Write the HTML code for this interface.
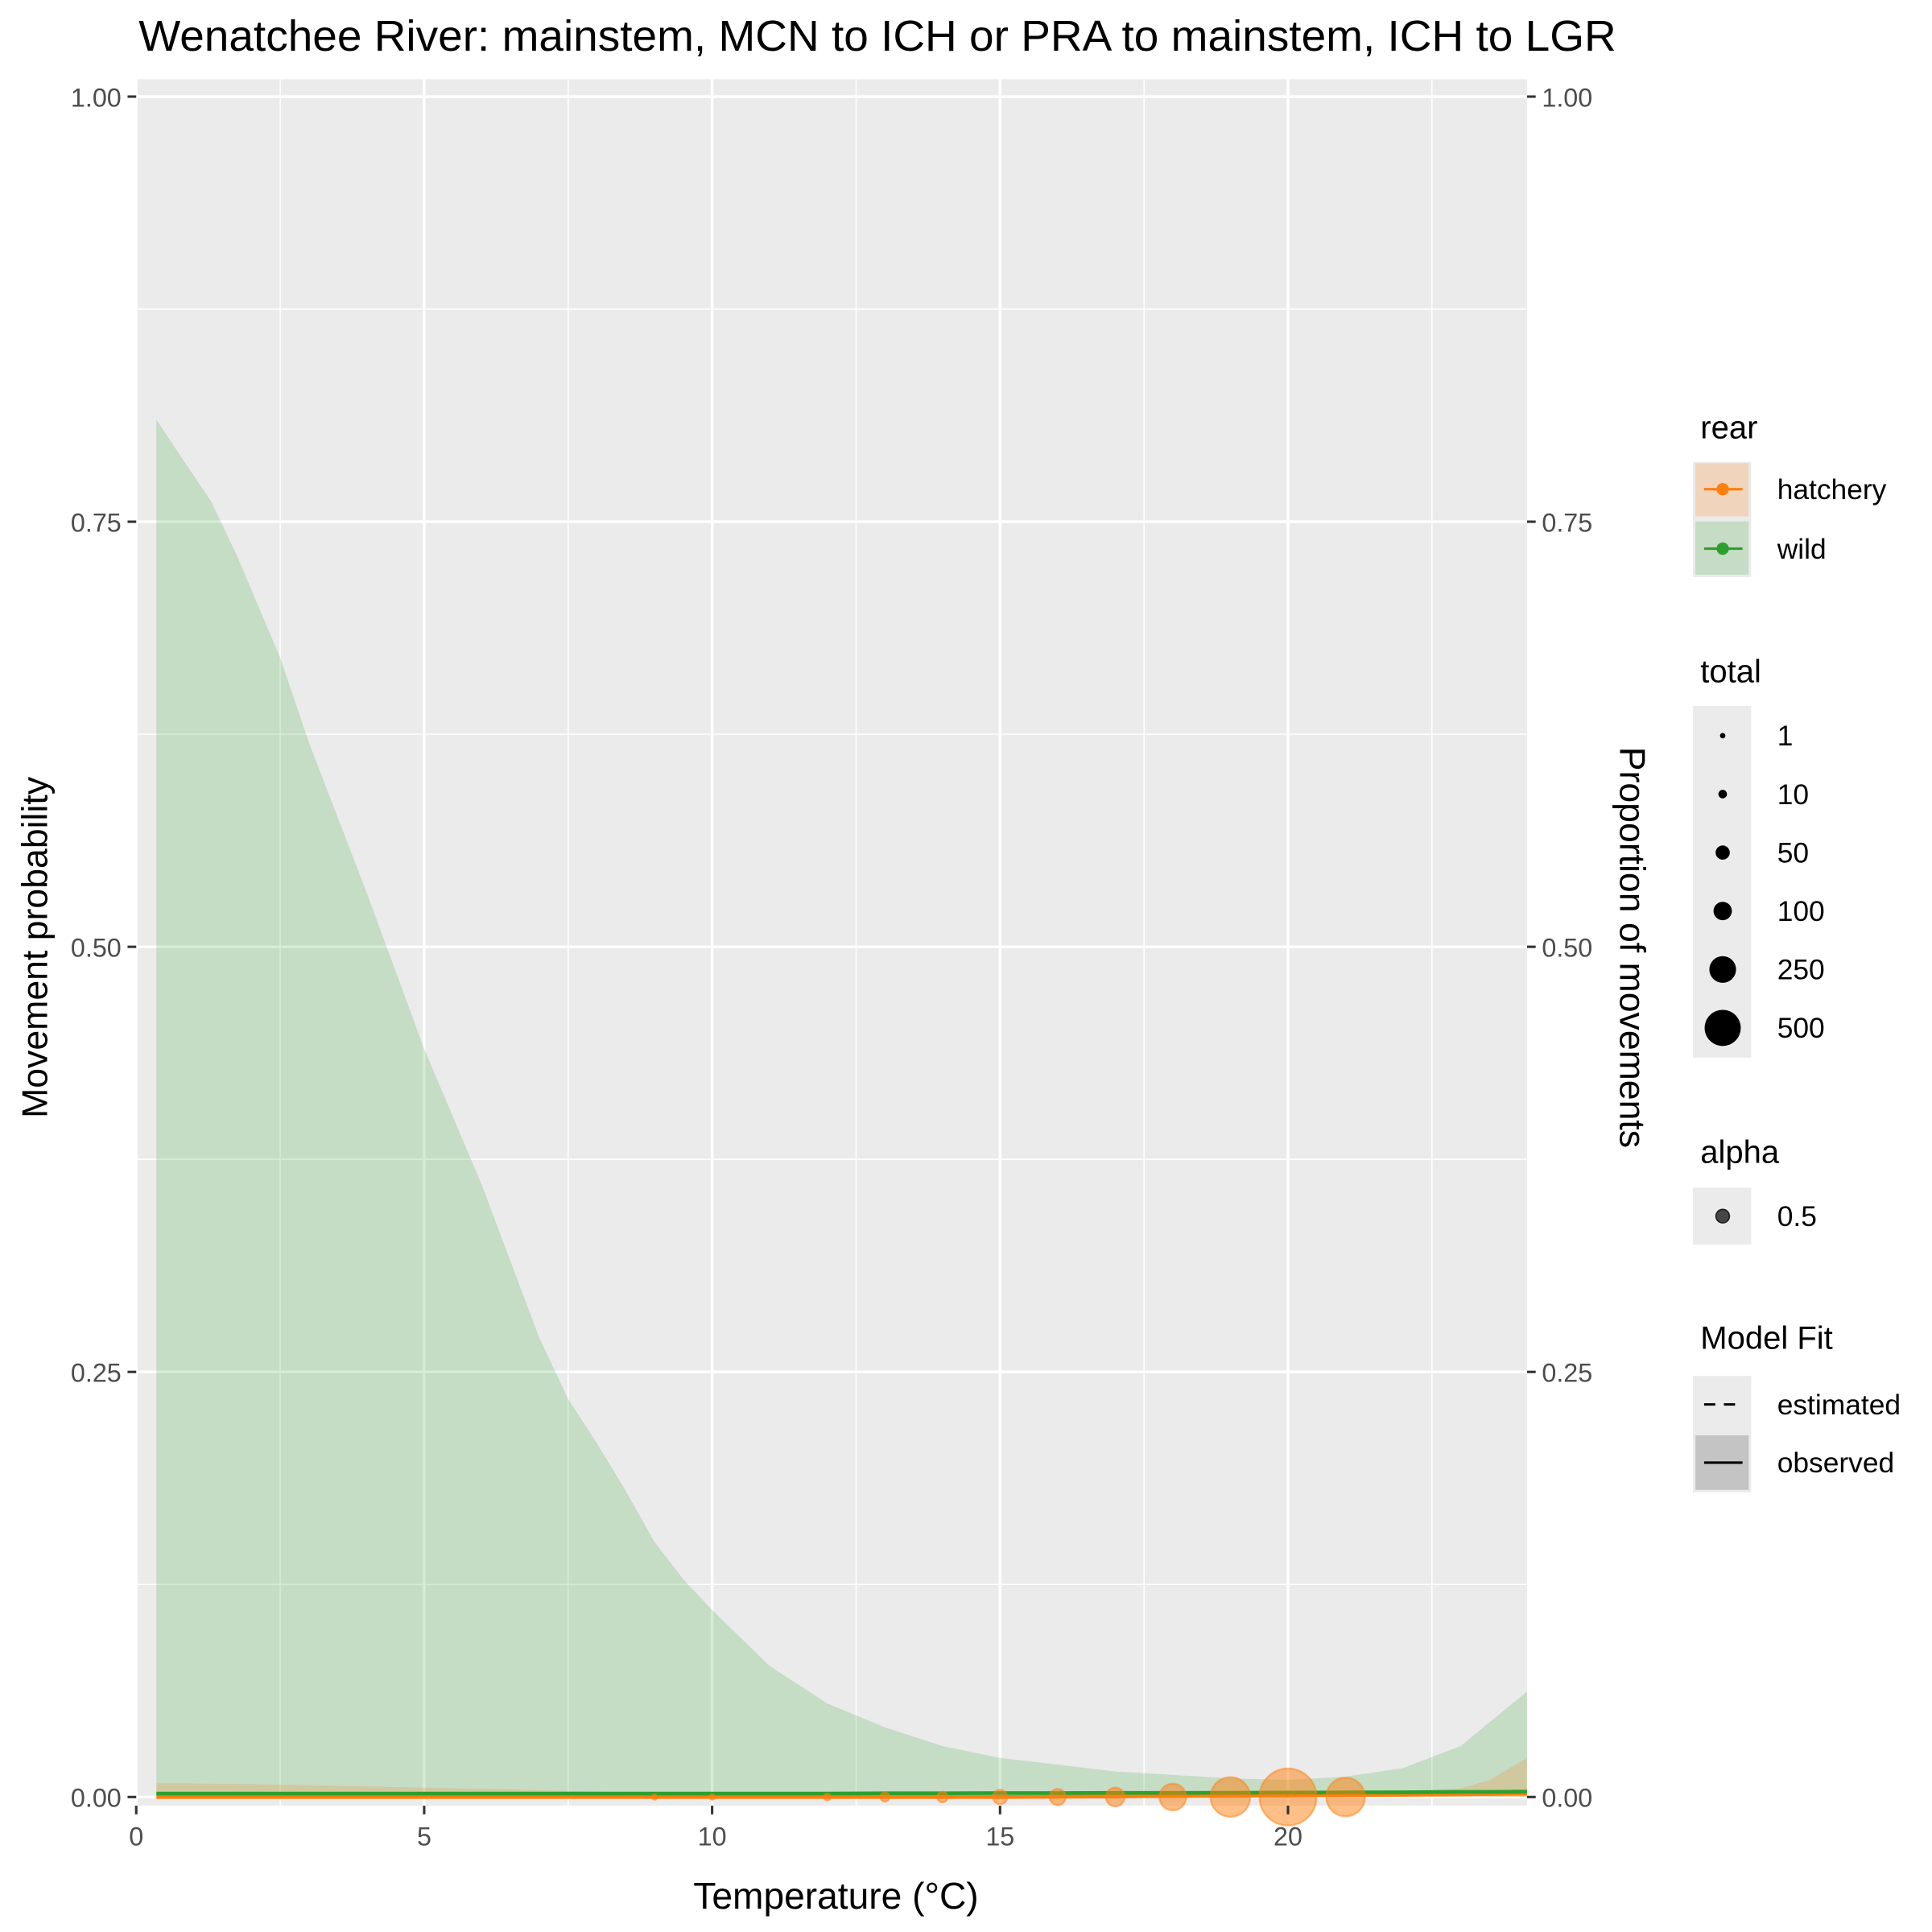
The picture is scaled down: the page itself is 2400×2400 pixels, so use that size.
<!DOCTYPE html>
<html><head><meta charset="utf-8"><style>
html,body{margin:0;padding:0;background:#fff}
svg{display:block;font-family:"Liberation Sans",Arial,sans-serif}
</style></head><body>
<svg id="chart" width="2400" height="2400" viewBox="0 0 1560 1560" xmlns="http://www.w3.org/2000/svg">
<text x="112" y="41" font-size="35" text-anchor="start" textLength="1193" lengthAdjust="spacingAndGlyphs">Wenatchee River: mainstem, MCN to ICH or PRA to mainstem, ICH to LGR</text>
<rect x="110" y="64" width="1123" height="1394" fill="#ebebeb"/>
<g id="grid"></g>
<g id="ribbons"></g>
<g id="lines"></g>
<g id="points"></g>
<g id="axes"></g>
<text x="675" y="1541" font-size="30" text-anchor="middle">Temperature (°C)</text>
<text transform="translate(38,765) rotate(-90)" font-size="29" text-anchor="middle">Movement probability</text>
<text transform="translate(1308,765) rotate(90)" font-size="29" text-anchor="middle">Proportion of movements</text>

<g font-size="23">
<text x="1373" y="354" font-size="26">rear</text>
<rect x="1367" y="373" width="47" height="93" fill="#ebebeb"/>
<g>
<rect x="1369" y="374" width="43" height="43" fill="#f0d5bc"/>
<line x1="1376" y1="395" x2="1407" y2="395" stroke="#ff7f0e" stroke-width="2"/>
<circle cx="1391" cy="395" r="5" fill="#ff7f0e"/>
<text x="1435" y="403">hatchery</text></g>
<g>
<rect x="1369" y="421" width="43" height="43" fill="#c7dcc5"/>
<line x1="1376" y1="443" x2="1407" y2="443" stroke="#2ca02c" stroke-width="2"/>
<circle cx="1391" cy="443" r="5" fill="#2ca02c"/>
<text x="1435" y="451">wild</text></g>
<text x="1373" y="551" font-size="26">total</text>
<rect x="1367" y="570" width="47" height="284" fill="#ebebeb"/>
<g id="sizeLegend"></g>
<text x="1373" y="939" font-size="26">alpha</text>
<rect x="1367" y="959" width="47" height="46" fill="#ebebeb"/>
<circle cx="1391" cy="982" r="5.5" fill="#000" fill-opacity="0.7" stroke="#000" stroke-opacity="0.8"/>
<text x="1435" y="990">0.5</text>
<text x="1373" y="1089" font-size="26">Model Fit</text>
<rect x="1367" y="1111" width="47" height="94" fill="#ebebeb"/>
<g>
<line x1="1376" y1="1134" x2="1407" y2="1134" stroke="#000" stroke-width="2" stroke-dasharray="9,7"/>
<text x="1435" y="1142">estimated</text></g>
<g>
<rect x="1369" y="1159" width="43" height="44" fill="#c4c4c4"/>
<line x1="1376" y1="1181" x2="1407" y2="1181" stroke="#000" stroke-width="2"/>
<text x="1435" y="1189">observed</text></g>
</g>
</svg>
<script>
const xTicks=[0,5,10,15,20];
const yTicks=[0,0.25,0.5,0.75,1];
const yTickLabels=["0.00","0.25","0.50","0.75","1.00"];
const ribbonTemps=[0.35,0.86,1.3,1.75,2.5,3,3.5,4,5,6,7,7.5,8,8.5,9,9.5,10,11,12,13,14,15,16,17,18,19,20,21,22,23,23.5,24.15];
const wildUpper=[0.81,0.784,0.762,0.73,0.67,0.62,0.576,0.532,0.44,0.36,0.27,0.234,0.208,0.18,0.15,0.128,0.11,0.077,0.055,0.041,0.03,0.023,0.019,0.015,0.013,0.011,0.01,0.012,0.017,0.03,0.044,0.062];
const hatchUpper=[0.008,0.008,0.0078,0.0076,0.0073,0.007,0.0066,0.0062,0.0055,0.0048,0.004,0.0036,0.0032,0.0028,0.0024,0.002,0.0017,0.0013,0.001,0.001,0.001,0.001,0.0011,0.0013,0.0016,0.002,0.0025,0.003,0.0035,0.005,0.01,0.023];
const wildFit=[0.002,0.002,0.002,0.002,0.002,0.002,0.002,0.002,0.002,0.002,0.002,0.002,0.002,0.002,0.002,0.002,0.002,0.002,0.002,0.0022,0.0022,0.0023,0.0023,0.0024,0.0024,0.0025,0.0026,0.0027,0.0028,0.003,0.003,0.0032];
const hatchFit=[0,0,0,0,0,0,0,0,0,0,0,0,0,0,0,0,0,0,0,0,0,0,0.0002,0.0003,0.0005,0.0007,0.0009,0.0011,0.0013,0.0016,0.0018,0.002];
const pointTemps=[9,10,12,13,14,15,16,17,18,19,20,21];
const pointTotals=[1,1,4,13,21,52,71,106,250,614,1360,580];
const pointProps=[0,0,0,0,0,0,0,0,0,0,0,0];
const sizeLegendValues=[1,10,50,100,250,500];

const NS="http://www.w3.org/2000/svg";
const X0=110,XU=46.5,Y0=1451,YU=1373;
function sx(t){return X0+t*XU;}
function sy(v){return Y0-v*YU;}
function rad(n){return 1.62+0.58*Math.sqrt(n);}
function mk(tag,attrs,parent){const e=document.createElementNS(NS,tag);for(const k in attrs)e.setAttribute(k,attrs[k]);parent.appendChild(e);return e;}

const grid=document.getElementById('grid');
[0.125,0.375,0.625,0.875].forEach(v=>{const l=mk('line',{x1:110,x2:1233,y1:sy(v),y2:sy(v),stroke:'#fff','stroke-width':1},grid);

});
[2.5,7.5,12.5,17.5,22.5].forEach(t=>{const l=mk('line',{x1:sx(t),x2:sx(t),y1:64,y2:1458,stroke:'#fff','stroke-width':1},grid);

});
yTicks.forEach(v=>{const l=mk('line',{x1:110,x2:1233,y1:sy(v),y2:sy(v),stroke:'#fff','stroke-width':2.2},grid);

});
xTicks.forEach(t=>{const l=mk('line',{x1:sx(t),x2:sx(t),y1:64,y2:1458,stroke:'#fff','stroke-width':2.2},grid);

});

const rib=document.getElementById('ribbons');
function ribbon(upper,fill,op,name){let d='M'+sx(ribbonTemps[0])+','+sy(0);
ribbonTemps.forEach((t,i)=>{d+=' L'+sx(t)+','+sy(upper[i]);});
d+=' L'+sx(ribbonTemps[ribbonTemps.length-1])+','+sy(0)+' Z';
const p=mk('path',{d:d,fill:fill,'fill-opacity':op},rib);

}
ribbon(wildUpper,'#2ca02c',0.2,'wild-ribbon');
ribbon(hatchUpper,'#ff7f0e',0.2,'hatchery-ribbon');

const ln=document.getElementById('lines');
function line(vals,col,name){const pts=ribbonTemps.map((t,i)=>sx(t)+','+sy(vals[i])).join(' ');
const p=mk('polyline',{points:pts,fill:'none',stroke:col,'stroke-width':3},ln);

}
line(hatchFit,'#ff7f0e','hatchery-fit-line');
line(wildFit,'#2ca02c','wild-fit-line');

const pg=document.getElementById('points');
pointTemps.forEach((t,i)=>{const c=mk('circle',{cx:sx(t),cy:sy(pointProps[i]),r:rad(pointTotals[i]),fill:'#ff7f0e','fill-opacity':0.5,stroke:'#ff7f0e','stroke-opacity':0.5,'stroke-width':1.5},pg);

});

const ax=document.getElementById('axes');
xTicks.forEach(t=>{const l=mk('line',{x1:sx(t),x2:sx(t),y1:1458,y2:1465,stroke:'#333','stroke-width':2},ax);


const tx=mk('text',{x:sx(t),y:1490,'font-size':21,fill:'#4d4d4d','text-anchor':'middle'},ax);tx.textContent=t;

});
yTicks.forEach((v,i)=>{const l=mk('line',{x1:103,x2:110,y1:sy(v),y2:sy(v),stroke:'#333','stroke-width':2},ax);


const tx=mk('text',{x:98,y:sy(v)+8,'font-size':21,fill:'#4d4d4d','text-anchor':'end'},ax);tx.textContent=yTickLabels[i];


const l2=mk('line',{x1:1233,x2:1240,y1:sy(v),y2:sy(v),stroke:'#333','stroke-width':2},ax);


const t2=mk('text',{x:1245,y:sy(v)+8,'font-size':21,fill:'#4d4d4d','text-anchor':'start'},ax);t2.textContent=yTickLabels[i];

});

const sl=document.getElementById('sizeLegend');
sizeLegendValues.forEach((n,i)=>{const cy=594+i*47.2;
const c=mk('circle',{cx:1391,cy:cy,r:rad(n),fill:'#000'},sl);


const t=mk('text',{x:1435,y:cy+8,'font-size':23},sl);t.textContent=n;

});
</script>
</body></html>
